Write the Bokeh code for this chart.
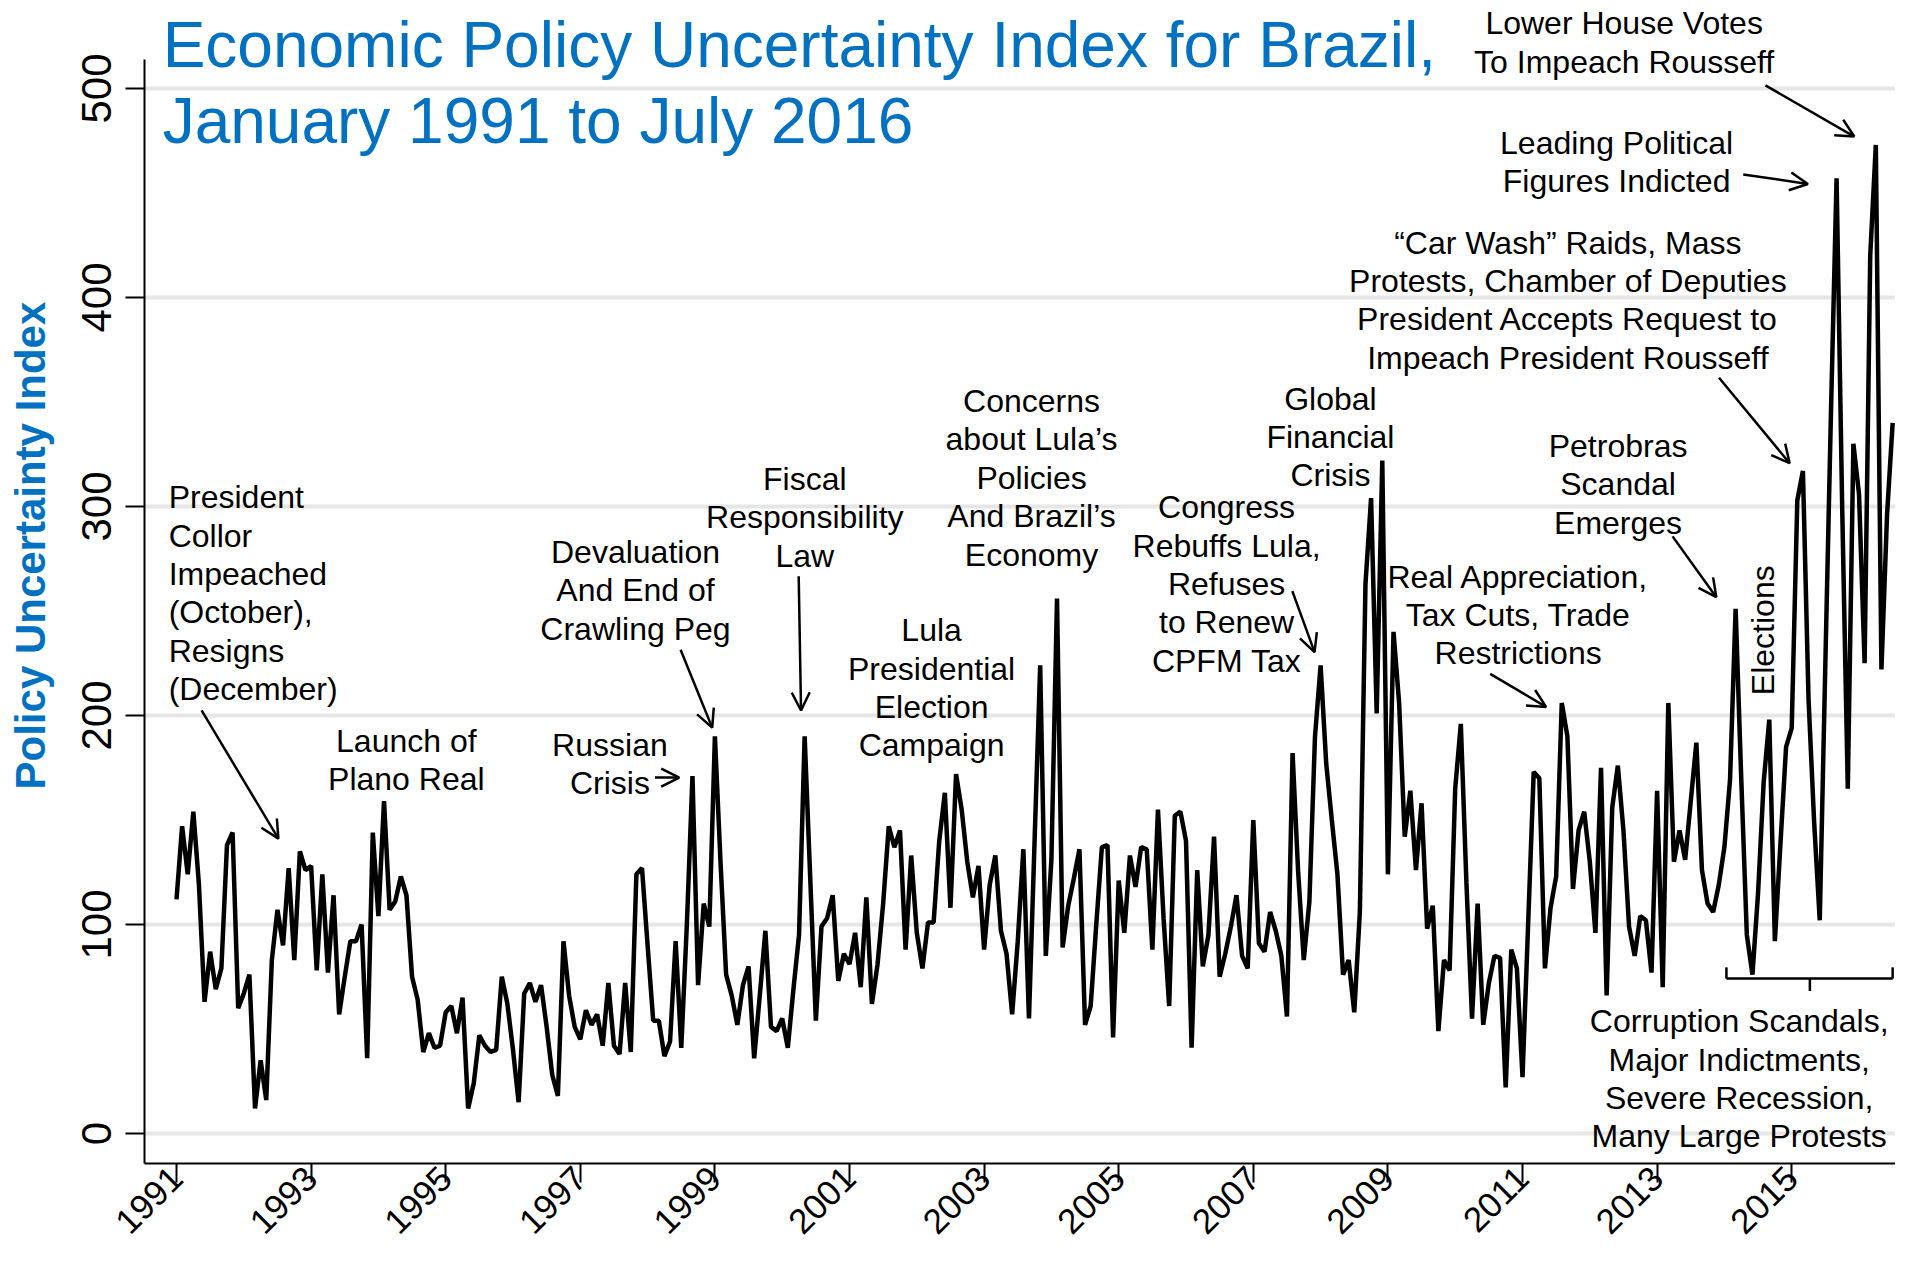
import pandas as pd
from math import pi
from bokeh.plotting import figure
from bokeh.models import Label, Arrow, OpenHead, FixedTicker, Range1d
from bokeh.embed import file_html
from bokeh.resources import INLINE

# Monthly Economic Policy Uncertainty index for Brazil, Jan 1991 .. Jul 2016 (one row per year)
epu = [
    112, 147, 124, 154, 119, 63, 87, 69, 79, 138, 144, 60,      # 1991
    67, 76, 12, 35, 16, 83, 107, 90, 127, 83, 135, 126,         # 1992
    128, 78, 124, 77, 114, 57, 75, 92, 92, 100, 36, 144,        # 1993
    104, 159, 107, 111, 123, 114, 75, 64, 39, 48, 41, 42,       # 1994
    58, 61, 48, 65, 12, 24, 47, 42, 39, 40, 75, 62,             # 1995
    40, 15, 67, 72, 63, 71, 51, 28, 18, 92, 66, 51,             # 1996
    45, 59, 52, 57, 42, 72, 42, 38, 72, 39, 124, 127,           # 1997
    90, 54, 54, 37, 44, 92, 41, 100, 171, 71, 110, 99,          # 1998
    190, 130, 76, 66, 52, 71, 80, 36, 66, 97, 51, 49,           # 1999
    55, 41, 69, 95, 190, 122, 54, 99, 103, 114, 73, 86,         # 2000
    81, 96, 70, 113, 62, 81, 110, 147, 137, 145, 88, 133,       # 2001
    96, 79, 101, 101, 140, 163, 108, 172, 155, 130, 113, 128,   # 2002
    88, 119, 133, 97, 86, 57, 92, 136, 55, 140, 224, 85,        # 2003
    131, 256, 89, 109, 122, 136, 52, 61, 100, 137, 138, 46,     # 2004
    121, 96, 133, 118, 137, 136, 88, 155, 103, 61, 152, 154,    # 2005
    140, 41, 126, 80, 95, 142, 75, 86, 99, 114, 85, 79,         # 2006
    150, 91, 87, 106, 97, 85, 56, 182, 125, 83, 111, 190,       # 2007
    224, 177, 150, 124, 76, 83, 58, 106, 263, 304, 201, 322,    # 2008
    124, 240, 206, 142, 164, 126, 158, 98, 109, 49, 83, 78,     # 2009
    165, 196, 120, 55, 110, 52, 72, 85, 84, 22, 88, 79,         # 2010
    27, 100, 173, 170, 79, 108, 123, 206, 190, 117, 145, 154,   # 2011
    130, 96, 175, 66, 156, 176, 145, 99, 85, 104, 102, 77,      # 2012
    164, 70, 206, 130, 145, 131, 159, 187, 126, 110, 106, 119,  # 2013
    137, 169, 251, 170, 95, 76, 115, 168, 198, 92, 139, 185,    # 2014
    194, 303, 317, 208, 149, 102, 225, 345, 457, 300, 165, 330, # 2015
    306, 225, 420, 473, 222, 296, 340,                          # 2016 (Jan-Jul)
]
months = pd.date_range("1991-01-01", periods=len(epu), freq="MS")
x_year = list(months.year + (months.month - 1) / 12.0)

x_ticks = list(range(1991, 2016, 2))
y_ticks = [0, 100, 200, 300, 400, 500]

FONT = "Liberation Sans"
BLUE = "#0070C0"

# visible ranges (whole canvas is the plotting frame; axes are pinned inside it)
XR = (1988.3848, 2016.5423)
YR = (-54.07, 542.1)
X_AXIS_AT = 1990.5245      # where the y axis sits
Y_AXIS_AT = -14.35         # where the x axis sits
Y_AXIS_TOP = 513.9

p = figure(width=1895, height=1246, output_backend="svg", toolbar_location=None,
           x_range=Range1d(*XR), y_range=Range1d(*YR),
           min_border_left=0, min_border_right=0, min_border_top=0, min_border_bottom=0)
p.outline_line_color = None
p.background_fill_color = "white"
p.border_fill_color = "white"
p.xgrid.visible = False
p.ygrid.visible = False

# horizontal grid lines at the y ticks, starting at the y axis
p.segment(x0=[X_AXIS_AT] * len(y_ticks), x1=[XR[1]] * len(y_ticks), y0=y_ticks, y1=y_ticks,
          line_color="#E6E6E6", line_width=4)

p.line(x_year, epu, line_color="black", line_width=4.5, line_join="bevel")

for ax in (p.xaxis[0], p.yaxis[0]):
    ax.axis_line_width = 2
    ax.axis_line_color = "black"
    ax.major_tick_line_width = 2
    ax.major_tick_line_color = "black"
    ax.major_tick_out = 19
    ax.major_tick_in = 0
    ax.minor_tick_out = 0
    ax.minor_tick_in = 0
    ax.major_label_text_font = FONT
    ax.major_label_text_color = "black"

p.xaxis.ticker = FixedTicker(ticks=x_ticks)
p.xaxis.fixed_location = Y_AXIS_AT
p.xaxis.bounds = (X_AXIS_AT, XR[1])
p.xaxis.major_label_orientation = pi / 4
p.xaxis.major_label_text_font_size = "35px"
p.xaxis.major_label_standoff = -10

p.yaxis.ticker = FixedTicker(ticks=y_ticks)
p.yaxis.fixed_location = X_AXIS_AT
p.yaxis.bounds = (Y_AXIS_AT, Y_AXIS_TOP)
p.yaxis.major_label_orientation = "vertical"
p.yaxis.major_label_text_font_size = "42px"
p.yaxis.major_label_standoff = 14

# Y axis title
p.add_layout(Label(x=1988.8306, y=281.3, text="Policy Uncertainty Index", angle=pi / 2,
                   text_font=FONT, text_font_size="42px", text_font_style="bold",
                   text_color=BLUE, text_align="center", text_baseline="middle"))

LINE_PX = 38.4


def block(lines, x, y_first, align="center", size="32px"):
    for i, t in enumerate(lines):
        p.add_layout(Label(x=x, y=y_first, y_offset=-i * LINE_PX, text=t,
                           text_font=FONT, text_font_size=size, text_color="black",
                           text_align=align, text_baseline="middle"))


def arrow(x0, y0, x1, y1, head=True):
    p.add_layout(Arrow(x_start=x0, y_start=y0, x_end=x1, y_end=y1,
                       end=OpenHead(size=18, line_width=2.5, line_color="black") if head else None,
                       line_width=2.5, line_color="black"))


# Title
p.add_layout(Label(x=1990.794, y=520.8, text="Economic Policy Uncertainty Index for Brazil,",
                   text_font=FONT, text_font_size="64px", text_color=BLUE,
                   text_align="left", text_baseline="middle"))
p.add_layout(Label(x=1990.794, y=484.6, text="January 1991 to July 2016",
                   text_font=FONT, text_font_size="64px", text_color=BLUE,
                   text_align="left", text_baseline="middle"))

# Event annotations
block(["President", "Collor", "Impeached", "(October),", "Resigns", "(December)"],
      1990.884, 304.4, align="left")
arrow(1991.373, 202.4, 1992.514, 141.1)

block(["Launch of", "Plano Real"], 1994.415, 187.8)

block(["Devaluation", "And End of", "Crawling Peg"], 1997.82, 278.2)
arrow(1998.49, 231.5, 1998.96, 194.2)

block(["Russian", "Crisis"], 1997.44, 186.1)
arrow(1998.11, 170.3, 1998.47, 170.3)

block(["Fiscal", "Responsibility", "Law"], 2000.336, 313.2)
arrow(2000.245, 266.6, 2000.28, 202.4)

block(["Lula", "Presidential", "Election", "Campaign"], 2002.22, 240.8)

block(["Concerns", "about Lula\u2019s", "Policies", "And Brazil\u2019s", "Economy"], 2003.705, 350.5)

block(["Congress", "Rebuffs Lula,", "Refuses", "to Renew", "CPFM Tax"], 2006.603, 299.7)
arrow(2007.58, 259.5, 2007.91, 230.3)

block(["Global", "Financial", "Crisis"], 2008.146, 351.6)

block(["Real Appreciation,", "Tax Cuts, Trade", "Restrictions"], 2010.935, 266.5)
arrow(2010.52, 219.9, 2011.35, 204.1)

block(["Petrobras", "Scandal", "Emerges"], 2012.42, 328.9)
arrow(2013.23, 285.7, 2013.88, 256.6)

p.add_layout(Label(x=2014.57, y=240.8, text="Elections", angle=pi / 2,
                   text_font=FONT, text_font_size="32px", text_color="black",
                   text_align="center", text_baseline="middle"))

block(["\u201cCar Wash\u201d Raids, Mass", "Protests, Chamber of Deputies",
       "President Accepts Request to", "Impeach President Rousseff"], 2011.674, 426.3)
arrow(2013.92, 361.6, 2014.97, 320.7)

block(["Leading Political", "Figures Indicted"], 2012.398, 474.1)
arrow(2014.28, 458.9, 2015.24, 454.3)

block(["Lower House Votes", "To Impeach Rousseff"], 2012.51, 531.2)
arrow(2014.61, 501.5, 2015.93, 477.0)

# Bracket over 2014-2016
arrow(2014.03, 74.1, 2016.50, 74.1, head=False)
arrow(2014.03, 74.1, 2014.03, 79.5, head=False)
arrow(2016.50, 74.1, 2016.50, 79.5, head=False)
arrow(2015.27, 74.1, 2015.27, 68.2, head=False)

block(["Corruption Scandals,", "Major Indictments,", "Severe Recession,", "Many Large Protests"],
      2014.22, 53.7)

open("out.html", "w").write(file_html(p, INLINE))
